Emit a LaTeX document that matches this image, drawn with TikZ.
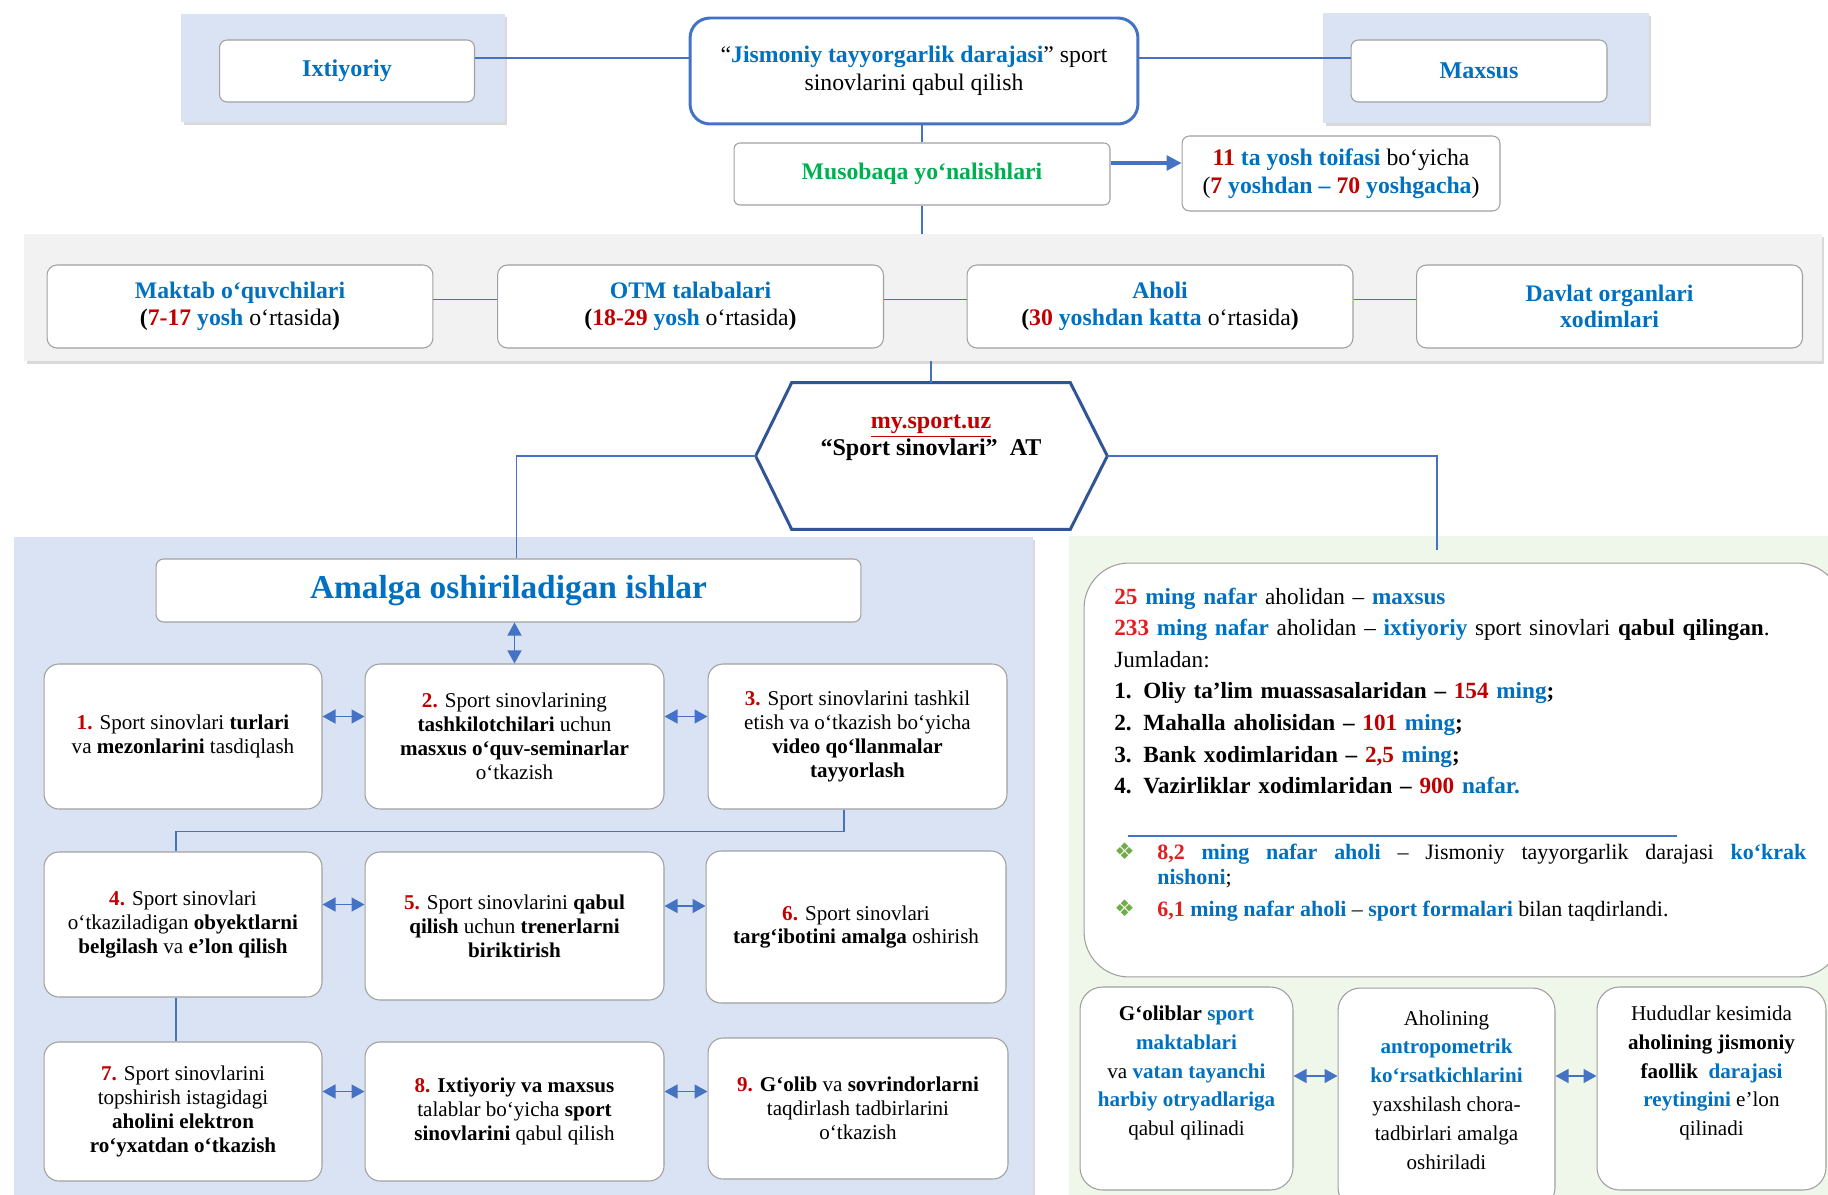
\documentclass[tikz,border=0pt]{standalone}
\usepackage{fontspec}
\setmainfont{Liberation Serif}
\newfontfamily\symfont{DejaVu Sans}
\usepackage{tikz}
\usetikzlibrary{positioning,calc,arrows.meta,shadows}

\definecolor{txtblue}{HTML}{0070C0}
\definecolor{txtred}{HTML}{C00000}
\definecolor{hotred}{HTML}{E0201F}
\definecolor{txtgreen}{HTML}{00B050}
\definecolor{linkblue}{HTML}{4472C4}
\definecolor{hexblue}{HTML}{2F5597}
\definecolor{panelblue}{HTML}{DAE3F3}
\definecolor{panelgreen}{HTML}{EFF6EA}
\definecolor{bandgray}{HTML}{F2F2F2}
\definecolor{boxline}{HTML}{A0A0A0}
\definecolor{bulletgreen}{HTML}{70AD47}

\newcommand{\bluebf}[1]{\textcolor{txtblue}{\textbf{#1}}}
\newcommand{\redbf}[1]{\textcolor{txtred}{\textbf{#1}}}
\newcommand{\hotbf}[1]{\textcolor{hotred}{\textbf{#1}}}
\newcommand{\bulletmark}{\textcolor{bulletgreen}{\symfont\fontsize{13}{14}\selectfont ❖}}

\begin{document}
\begin{tikzpicture}[x=0.02cm, y=-0.02cm,
    panel/.style={inner sep=0pt, outer sep=0pt,
        drop shadow={shadow xshift=0.05cm, shadow yshift=-0.06cm, fill=black, opacity=0.15}},
    box/.style={draw=boxline, fill=white, line width=0.6pt, align=center, inner sep=1pt},
    task/.style={box, rounded corners=0.3cm, font=\fontsize{12}{13.6}\selectfont},
    groupbox/.style={box, rounded corners=0.2cm, minimum width=7.72cm, minimum height=1.66cm,
        font=\fontsize{13.5}{15}\selectfont},
    result/.style={box, rounded corners=0.45cm},
    resulttxt/.style={align=center, inner sep=0pt, font=\fontsize{12}{16.4}\selectfont},
    link/.style={draw=linkblue, line width=0.6pt},
    twoway/.style={linkblue, line width=0.8pt,
        {Triangle[length=0.26cm,width=0.28cm]}-{Triangle[length=0.26cm,width=0.28cm]}}]

    \useasboundingbox (0,0) rectangle (1828,1195);

    % Backgrounds
    \node[panel, fill=panelblue, minimum width=6.48cm, minimum height=2.16cm] (ixtbg) at (343,68) {};
    \node[panel, fill=panelblue, minimum width=6.52cm, minimum height=2.2cm] (mxsbg) at (1486,68) {};
    \node[panel, fill=bandgray, minimum width=35.96cm, minimum height=2.54cm] (band) at (923,297.5) {};
    \node[panel, fill=panelblue, minimum width=20.38cm, minimum height=13.36cm] (leftpanel) at (523.5,871) {};
    \node[panel, fill=panelgreen, minimum width=15.42cm, minimum height=13.38cm] (rightpanel) at (1454.5,870.5) {};

    % Top row
    \node[box, rounded corners=0.15cm, minimum width=5.1cm, minimum height=1.24cm,
        font=\fontsize{13.7}{15}\selectfont\bfseries, text=txtblue] (ixt) at (347,71) {Ixtiyoriy};
    \node[box, rounded corners=0.15cm, minimum width=5.12cm, minimum height=1.24cm,
        font=\fontsize{13.7}{15}\selectfont\bfseries, text=txtblue] (mxs) at (1479,71) {Maxsus};
    \node[box, draw=linkblue, line width=1.7pt, rounded corners=0.4cm, minimum width=8.96cm,
        minimum height=2.12cm, font=\fontsize{13.5}{15.6}\selectfont] (title) at (914,71)
        {“\bluebf{Jismoniy tayyorgarlik darajasi}” sport\\sinovlarini qabul qilish};
    \draw[link] ([yshift=0.26cm]ixt.east) -- ([yshift=0.26cm]ixt.east -| title.west);
    \draw[link] ([yshift=0.26cm]title.east) -- ([yshift=0.26cm]title.east -| mxs.west);

    \node[box, rounded corners=0.12cm, minimum width=7.52cm, minimum height=1.24cm,
        font=\fontsize{13.5}{15}\selectfont\bfseries, text=txtgreen] (mus) at (922,174) {Musobaqa yo‘nalishlari};
    \node[box, rounded corners=0.15cm, minimum width=6.36cm, minimum height=1.5cm,
        font=\fontsize{13.5}{15.8}\selectfont] (age) at (1341,173.5)
        {\redbf{11} \bluebf{ta yosh toifasi} bo‘yicha\\(\redbf{7} \bluebf{yoshdan –} \redbf{70} \bluebf{yoshgacha})};
    \draw[link] (title.south -| mus.north) -- (mus.north);
    \draw[link, line width=1.8pt, -{Triangle[length=0.3cm,width=0.3cm]}]
        ([yshift=0.22cm]mus.east) -- ([yshift=0.22cm]mus.east -| age.west);
    \draw[link] (mus.south) -- (mus.south |- band.north);

    % Groups
    \node[groupbox] (pupils) at (240,306.5) {\bluebf{Maktab o‘quvchilari}\\\textbf{(}\redbf{7-17} \bluebf{yosh} o‘rtasida\textbf{)}};
    \node[groupbox] (students) at (690.5,306.5) {\bluebf{OTM talabalari}\\\textbf{(}\redbf{18-29} \bluebf{yosh} o‘rtasida\textbf{)}};
    \node[groupbox] (people) at (1160,306.5) {\bluebf{Aholi}\\\textbf{(}\redbf{30} \bluebf{yoshdan katta} o‘rtasida\textbf{)}};
    \node[groupbox] (staff) at (1609.5,306.5) {\bluebf{Davlat organlari}\\\bluebf{xodimlari}};
    \foreach \a/\b in {pupils/students, students/people, people/staff}
        \draw[link] ([yshift=0.14cm]\a.east) -- ([yshift=0.14cm]\a.east -| \b.west);

    % Platform
    \node[minimum width=5.56cm, minimum height=2.92cm] (hex) at (931,456) {};
    \coordinate (hexL) at ($(hex.west)+(-36,0)$);
    \coordinate (hexR) at ($(hex.east)+(37,0)$);
    \draw[hexblue, line width=1.7pt, fill=white] (hex.north west) -- (hex.north east) -- (hexR)
        -- (hex.south east) -- (hex.south west) -- (hexL) -- cycle;
    \node[align=center, font=\fontsize{13.7}{15.5}\selectfont\bfseries] (hexlabel) at (931,438)
        {\textcolor{txtred}{\underline{my.sport.uz}}\\“Sport sinovlari”~\ AT};
    \draw[link] (band.south -| hex.north) -- (hex.north);

    % Works
    \node[box, rounded corners=0.15cm, minimum width=14.1cm, minimum height=1.26cm,
        font=\fontsize{19}{21}\selectfont\bfseries, text=txtblue] (todo) at (508.5,590.5) {Amalga oshiriladigan ishlar};
    \draw[link] (hexL) -| ([xshift=0.16cm]todo.north);

    \node[task, minimum width=5.56cm, minimum height=2.9cm] (b1) at (183,736.5)
        {\redbf{1.} Sport sinovlari \textbf{turlari}\\va \textbf{mezonlarini} tasdiqlash};
    \node[task, minimum width=5.98cm, minimum height=2.9cm] (b2) at (514.5,736.5)
        {\redbf{2.} Sport sinovlarining\\\textbf{tashkilotchilari} uchun\\\textbf{masxus o‘quv-seminarlar}\\o‘tkazish};
    \node[task, minimum width=5.98cm, minimum height=2.9cm] (b3) at (857.5,736.5)
        {\redbf{3.} Sport sinovlarini tashkil\\etish va o‘tkazish bo‘yicha\\\textbf{video qo‘llanmalar}\\\textbf{tayyorlash}};
    \node[task, minimum width=5.56cm, minimum height=2.9cm] (b4) at (183,924.5)
        {\redbf{4.} Sport sinovlari\\o‘tkaziladigan \textbf{obyektlarni}\\\textbf{belgilash} va \textbf{e’lon qilish}};
    \node[task, minimum width=5.98cm, minimum height=2.96cm] (b5) at (514.5,926)
        {\redbf{5.} Sport sinovlarini \textbf{qabul}\\\textbf{qilish} uchun \textbf{trenerlarni}\\\textbf{biriktirish}};
    \node[task, minimum width=6cm, minimum height=3.04cm] (b6) at (856,927)
        {\redbf{6.} Sport sinovlari\\\textbf{targ‘ibotini amalga} oshirish};
    \node[task, minimum width=5.56cm, minimum height=2.78cm] (b7) at (183,1111.5)
        {\redbf{7.} Sport sinovlarini\\topshirish istagidagi\\\textbf{aholini elektron}\\\textbf{ro‘yxatdan o‘tkazish}};
    \node[task, minimum width=5.98cm, minimum height=2.78cm] (b8) at (514.5,1111.5)
        {\redbf{8.} \textbf{Ixtiyoriy va maxsus}\\talablar bo‘yicha \textbf{sport}\\\textbf{sinovlarini} qabul qilish};
    \node[task, minimum width=6cm, minimum height=2.82cm] (b9) at (858,1108.5)
        {\redbf{9.} \textbf{G‘olib} va \textbf{sovrindorlarni}\\taqdirlash tadbirlarini\\o‘tkazish};

    \draw[twoway] (todo.south -| b2.north) -- (b2.north);
    \foreach \a/\b in {b1/b2, b2/b3, b4/b5, b5/b6, b7/b8, b8/b9}
        \draw[twoway] ([yshift=0.4cm]\a.east) -- ([yshift=0.4cm]\a.east -| \b.west);
    \draw[link] ([xshift=-0.27cm]b3.south) -- ++(0,22) -| ([xshift=-0.14cm]b4.north);
    \draw[link] ([xshift=-0.14cm]b4.south) -- ([xshift=-0.14cm]b7.north);

    % Results
    \coordinate (statsTop) at (1437,550);
    \draw[link] (hexR) -| (statsTop);
    \node[box, rounded corners=0.9cm, minimum width=15.16cm, minimum height=8.28cm] (stats) at (1463,770) {};
    \node[anchor=base west, inner sep=0pt, text width=13.84cm, align=left,
        font=\fontsize{13.2}{18}\selectfont] (statstext) at (1114,604)
        {\hotbf{25} \bluebf{ming nafar} aholidan – \bluebf{maxsus}\\
         \hotbf{233} \bluebf{ming nafar} aholidan – \bluebf{ixtiyoriy} sport sinovlari \textbf{qabul qilingan}.\\
         Jumladan:\\
         \textbf{1. Oliy ta’lim muassasalaridan –} \redbf{154} \bluebf{ming}\textbf{;}\\
         \textbf{2. Mahalla aholisidan –} \redbf{101} \bluebf{ming}\textbf{;}\\
         \textbf{3. Bank xodimlaridan –} \redbf{2,5} \bluebf{ming}\textbf{;}\\
         \textbf{4. Vazirliklar xodimlaridan –} \redbf{900} \bluebf{nafar.}};
    \draw[linkblue, line width=0.6pt] (1128,836) -- (1677,836);
    \node[anchor=base west, inner sep=0pt, text width=13.84cm, align=justify,
        font=\fontsize{12.5}{14.7}\selectfont] (awards) at (1114,859)
        {\noindent\hangindent=0.86cm\hangafter=1\makebox[0.86cm][l]{\bulletmark}\hotbf{8,2}
         \bluebf{ming nafar aholi} – Jismoniy tayyorgarlik darajasi \bluebf{ko‘krak}\linebreak\bluebf{nishoni};\par
         \vspace{0.12cm}
         \noindent\hangindent=0.86cm\hangafter=1\makebox[0.86cm][l]{\bulletmark}\hotbf{6,1}
         \bluebf{ming nafar aholi} – \bluebf{sport formalari} bilan taqdirlandi.\par};

    \node[result, minimum width=4.26cm, minimum height=4.06cm] (winners) at (1186.5,1088.5) {};
    \node[result, minimum width=4.34cm, minimum height=4.44cm] (anthro) at (1446.5,1099) {};
    \node[result, minimum width=4.58cm, minimum height=4.06cm] (rating) at (1711.5,1088.5) {};
    \node[resulttxt] (winnerstext) at (1186.5,1073)
        {\textbf{G‘oliblar} \bluebf{sport}\\\bluebf{maktablari}\\va \bluebf{vatan tayanchi}\\\bluebf{harbiy otryadlariga}\\qabul qilinadi};
    \node[resulttxt] (anthrotext) at (1446.5,1090)
        {Aholining\\\bluebf{antropometrik}\\\bluebf{ko‘rsatkichlarini}\\yaxshilash chora-\\tadbirlari amalga\\oshiriladi};
    \node[resulttxt] (ratingtext) at (1711.5,1073)
        {Hududlar kesimida\\\textbf{aholining jismoniy}\\\textbf{faollik}~\ \bluebf{darajasi}\\\bluebf{reytingini} e’lon\\qilinadi};
    \coordinate (resultrow) at (0,1076);
    \draw[twoway] (winners.east |- resultrow) -- (anthro.west |- resultrow);
    \draw[twoway] (anthro.east |- resultrow) -- (rating.west |- resultrow);
\end{tikzpicture}
\end{document}
